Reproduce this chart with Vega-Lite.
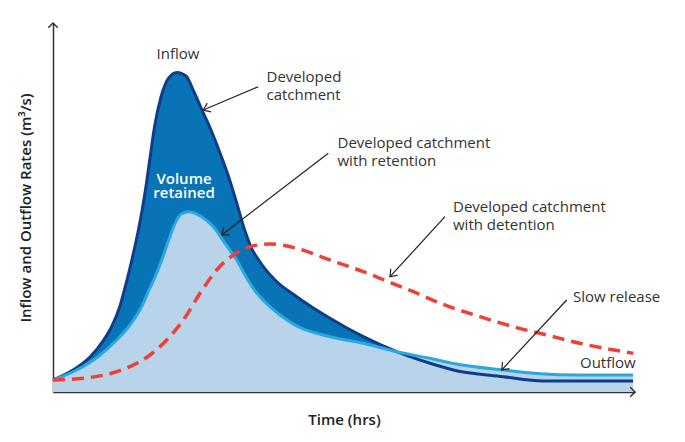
{
  "$schema": "https://vega.github.io/schema/vega-lite/v6.json",
  "width": 582,
  "height": 369,
  "autosize": {"type": "none"},
  "padding": {"left": 53, "top": 23, "right": 50, "bottom": 50},
  "background": "white",
  "config": {
    "view": {"stroke": null},
    "font": "Open Sans",
    "axis": {"grid": false, "ticks": false, "labels": false, "domainColor": "#333333", "domainWidth": 1.5, "titleFont": "Open Sans", "titleFontSize": 15, "titleFontWeight": 600, "titleColor": "#222222"}
  },
  "datasets": {
    "inflow": [
      {"t": 0, "q": 12}, {"t": 20, "q": 22}, {"t": 37, "q": 35}, {"t": 50, "q": 51}, {"t": 59, "q": 66},
      {"t": 67, "q": 86}, {"t": 74, "q": 112}, {"t": 80, "q": 137}, {"t": 85, "q": 160}, {"t": 89.5, "q": 184},
      {"t": 93.5, "q": 209}, {"t": 97, "q": 234}, {"t": 101.5, "q": 265}, {"t": 108, "q": 295}, {"t": 115, "q": 313},
      {"t": 124, "q": 319.5}, {"t": 133, "q": 316}, {"t": 141, "q": 300}, {"t": 149, "q": 282}, {"t": 158, "q": 262},
      {"t": 167, "q": 239}, {"t": 176, "q": 214}, {"t": 184, "q": 188}, {"t": 191, "q": 164}, {"t": 198, "q": 145},
      {"t": 207, "q": 130}, {"t": 222, "q": 112}, {"t": 243.7, "q": 95.3}, {"t": 277, "q": 73.7}, {"t": 310.3, "q": 55.3},
      {"t": 343.7, "q": 40.3}, {"t": 377, "q": 28.7}, {"t": 400.3, "q": 22}, {"t": 450.3, "q": 15.3}, {"t": 490.3, "q": 11},
      {"t": 580, "q": 11}
    ],
    "retention": [
      {"t": 0, "q": 12}, {"t": 23.7, "q": 22}, {"t": 45, "q": 35.3}, {"t": 63.7, "q": 52}, {"t": 77, "q": 67},
      {"t": 88.7, "q": 85.3}, {"t": 96, "q": 102}, {"t": 103.7, "q": 119}, {"t": 109.5, "q": 134}, {"t": 115, "q": 150},
      {"t": 123.7, "q": 172}, {"t": 129, "q": 178.5}, {"t": 135.3, "q": 180.3}, {"t": 148.7, "q": 175.3}, {"t": 160.3, "q": 165.3},
      {"t": 172, "q": 148.7}, {"t": 183.7, "q": 132}, {"t": 193.7, "q": 114}, {"t": 203, "q": 100}, {"t": 214, "q": 88},
      {"t": 227, "q": 77}, {"t": 243.7, "q": 66}, {"t": 277, "q": 55.3}, {"t": 310.3, "q": 48.7}, {"t": 343.7, "q": 40.3},
      {"t": 377, "q": 33.7}, {"t": 400.3, "q": 28.5}, {"t": 450.3, "q": 22}, {"t": 483.7, "q": 18.5}, {"t": 527, "q": 17},
      {"t": 580, "q": 17}
    ],
    "detention": [
      {"t": 0, "q": 12}, {"t": 30.3, "q": 13.7}, {"t": 63.7, "q": 20.3}, {"t": 80.3, "q": 27}, {"t": 97, "q": 37},
      {"t": 113.7, "q": 52}, {"t": 130.3, "q": 72}, {"t": 147, "q": 98.7}, {"t": 163.7, "q": 122}, {"t": 180.3, "q": 137},
      {"t": 197, "q": 145.3}, {"t": 217, "q": 148}, {"t": 243.7, "q": 143.7}, {"t": 277, "q": 132}, {"t": 310.3, "q": 120.3},
      {"t": 333.7, "q": 111}, {"t": 360.3, "q": 100.3}, {"t": 393.7, "q": 86.3}, {"t": 427, "q": 75.3}, {"t": 460.3, "q": 65.3},
      {"t": 493.7, "q": 57}, {"t": 527, "q": 48.7}, {"t": 580.3, "q": 38.7}
    ],
    "pointers": [
      {"t": 205.3, "q": 305.3, "t2": 150.3, "q2": 282, "angle": 157},
      {"t": 275.3, "q": 238.7, "t2": 168.7, "q2": 157, "angle": 142.5},
      {"t": 392, "q": 175.3, "t2": 337, "q2": 115.3, "angle": 132.5},
      {"t": 513.7, "q": 92, "t2": 448.7, "q2": 22, "angle": 132.9}
    ],
    "axisTips": [
      {"t": 0, "q": 369, "angle": 270},
      {"t": 582, "q": 0, "angle": 0}
    ],
    "notes": [
      {"t": 213.5, "q": 310, "label": "Developed\ncatchment"},
      {"t": 284.5, "q": 243.7, "label": "Developed catchment\nwith retention"},
      {"t": 400, "q": 179.7, "label": "Developed catchment\nwith detention"},
      {"t": 520, "q": 90.3, "label": "Slow release"},
      {"t": 527, "q": 23.7, "label": "Outflow"}
    ],
    "centered": [
      {"t": 125, "q": 333, "label": "Inflow"}
    ],
    "inside": [
      {"t": 131, "q": 208, "label": "Volume\nretained"}
    ]
  },
  "layer": [
    {
      "data": {"name": "inflow"},
      "mark": {"type": "area", "interpolate": "monotone", "color": "#0873b5"},
      "encoding": {
        "x": {"field": "t", "type": "quantitative", "scale": {"domain": [0, 582], "nice": false, "zero": false}, "axis": {"title": "Time (hrs)", "titlePadding": 20}},
        "y": {"field": "q", "type": "quantitative", "scale": {"domain": [0, 369], "nice": false, "zero": false}, "axis": {"title": "Inflow and Outflow Rates (m³/s)", "titlePadding": 20}}
      }
    },
    {
      "data": {"name": "retention"},
      "mark": {"type": "area", "interpolate": "monotone", "color": "#b8d3ea"},
      "encoding": {"x": {"field": "t", "type": "quantitative"}, "y": {"field": "q", "type": "quantitative"}}
    },
    {
      "data": {"name": "inflow"},
      "mark": {"type": "line", "interpolate": "monotone", "color": "#0e3d8a", "strokeWidth": 3},
      "encoding": {"x": {"field": "t", "type": "quantitative"}, "y": {"field": "q", "type": "quantitative"}}
    },
    {
      "data": {"name": "retention"},
      "mark": {"type": "line", "interpolate": "monotone", "color": "#2aa9e1", "strokeWidth": 3},
      "encoding": {"x": {"field": "t", "type": "quantitative"}, "y": {"field": "q", "type": "quantitative"}}
    },
    {
      "data": {"name": "detention"},
      "mark": {"type": "line", "interpolate": "monotone", "color": "#ee4035", "strokeWidth": 3.5, "strokeDash": [12, 7]},
      "encoding": {"x": {"field": "t", "type": "quantitative"}, "y": {"field": "q", "type": "quantitative"}}
    },
    {
      "data": {"name": "pointers"},
      "mark": {"type": "rule", "color": "#222222", "strokeWidth": 1.2},
      "encoding": {
        "x": {"field": "t", "type": "quantitative"}, "y": {"field": "q", "type": "quantitative"},
        "x2": {"field": "t2"}, "y2": {"field": "q2"}
      }
    },
    {
      "data": {"name": "pointers"},
      "mark": {"type": "point", "shape": "M-1,-0.75L0,0L-1,0.75", "filled": false, "color": "#222222", "strokeWidth": 1.2, "size": 160, "opacity": 1},
      "encoding": {
        "x": {"field": "t2", "type": "quantitative"}, "y": {"field": "q2", "type": "quantitative"},
        "angle": {"field": "angle", "type": "quantitative", "scale": null}
      }
    },
    {
      "data": {"name": "axisTips"},
      "mark": {"type": "point", "shape": "M-1,-1L0,0L-1,1", "filled": false, "color": "#333333", "strokeWidth": 1.5, "size": 90, "opacity": 1},
      "encoding": {
        "x": {"field": "t", "type": "quantitative"}, "y": {"field": "q", "type": "quantitative"},
        "angle": {"field": "angle", "type": "quantitative", "scale": null}
      }
    },
    {
      "data": {"name": "notes"},
      "mark": {"type": "text", "align": "left", "baseline": "alphabetic", "fontSize": 15, "lineBreak": "\n", "lineHeight": 17.5, "color": "#333333", "font": "Open Sans"},
      "encoding": {"x": {"field": "t", "type": "quantitative"}, "y": {"field": "q", "type": "quantitative"}, "text": {"field": "label"}}
    },
    {
      "data": {"name": "centered"},
      "mark": {"type": "text", "align": "center", "baseline": "alphabetic", "fontSize": 15, "color": "#333333", "font": "Open Sans"},
      "encoding": {"x": {"field": "t", "type": "quantitative"}, "y": {"field": "q", "type": "quantitative"}, "text": {"field": "label"}}
    },
    {
      "data": {"name": "inside"},
      "mark": {"type": "text", "align": "center", "baseline": "alphabetic", "fontSize": 15, "fontWeight": 600, "lineBreak": "\n", "lineHeight": 14, "color": "white", "font": "Open Sans"},
      "encoding": {"x": {"field": "t", "type": "quantitative"}, "y": {"field": "q", "type": "quantitative"}, "text": {"field": "label"}}
    }
  ]
}
